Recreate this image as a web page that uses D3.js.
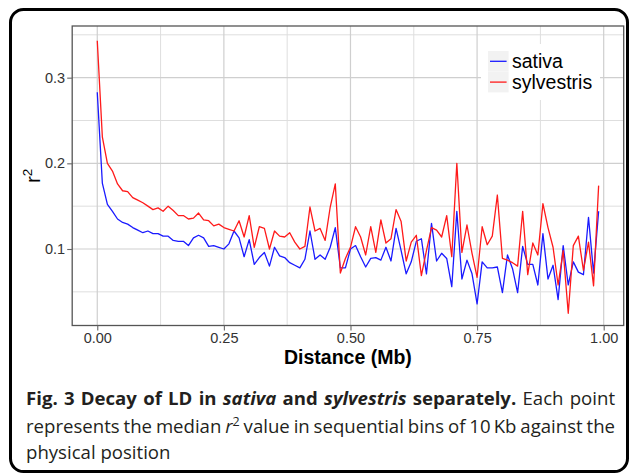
<!DOCTYPE html>
<html>
<head>
<meta charset="utf-8">
<script src="https://cdn.jsdelivr.net/npm/d3@7/dist/d3.min.js"></script>
<style>
  body { margin: 0; background: #fff; }
  svg { display: block; }
  .axis text { font-family: "Liberation Sans", Arial, sans-serif; font-size: 14.5px; fill: #333; }
  .axis path { display: none; }
  .axis line { stroke: #666; stroke-width: 1.1; }
  .title { font-family: "Liberation Sans", Arial, sans-serif; fill: #000; }
  .caption { font-family: "Open Sans", sans-serif; font-size: 18.6px; fill: #231f20; }
</style>
</head>
<body>
<div id="chart"></div>
<script>
// distance bins (Mb) and median r^2 per bin
const distance = [
  0.00, 0.01, 0.02, 0.03, 0.04, 0.05, 0.06, 0.07, 0.08, 0.09,
  0.10, 0.11, 0.12, 0.13, 0.14, 0.15, 0.16, 0.17, 0.18, 0.19,
  0.20, 0.21, 0.22, 0.23, 0.24, 0.25, 0.26, 0.27, 0.28, 0.29,
  0.30, 0.31, 0.32, 0.33, 0.34, 0.35, 0.36, 0.37, 0.38, 0.39,
  0.40, 0.41, 0.42, 0.43, 0.44, 0.45, 0.46, 0.47, 0.48, 0.49,
  0.50, 0.51, 0.52, 0.53, 0.54, 0.55, 0.56, 0.57, 0.58, 0.59,
  0.60, 0.61, 0.62, 0.63, 0.64, 0.65, 0.66, 0.67, 0.68, 0.69,
  0.70, 0.71, 0.72, 0.73, 0.74, 0.75, 0.76, 0.77, 0.78, 0.79,
  0.80, 0.81, 0.82, 0.83, 0.84, 0.85, 0.86, 0.87, 0.88, 0.89,
  0.90, 0.91, 0.92, 0.93, 0.94, 0.95, 0.96, 0.97, 0.98, 0.99
];

const sativa = [
  0.283, 0.177, 0.152, 0.144, 0.135, 0.131, 0.129, 0.125, 0.122, 0.119,
  0.121, 0.118, 0.118, 0.115, 0.115, 0.110, 0.109, 0.109, 0.104, 0.113,
  0.116, 0.113, 0.103, 0.104, 0.102, 0.100, 0.106, 0.121, 0.113, 0.091,
  0.111, 0.082, 0.090, 0.096, 0.080, 0.102, 0.092, 0.090, 0.084, 0.081,
  0.078, 0.088, 0.121, 0.088, 0.093, 0.088, 0.102, 0.125, 0.078, 0.078,
  0.100, 0.104, 0.091, 0.079, 0.089, 0.090, 0.087, 0.102, 0.086, 0.124,
  0.098, 0.071, 0.085, 0.109, 0.112, 0.071, 0.130, 0.086, 0.095, 0.089,
  0.056, 0.144, 0.065, 0.087, 0.071, 0.036, 0.085, 0.078, 0.078, 0.079,
  0.049, 0.093, 0.077, 0.049, 0.103, 0.082, 0.082, 0.058, 0.118, 0.065,
  0.081, 0.041, 0.104, 0.058, 0.085, 0.073, 0.070, 0.137, 0.072, 0.144
];

const sylvestris = [
  0.343, 0.231, 0.200, 0.191, 0.176, 0.168, 0.167, 0.160, 0.157, 0.154,
  0.150, 0.146, 0.148, 0.144, 0.150, 0.145, 0.139, 0.139, 0.135, 0.136,
  0.142, 0.134, 0.133, 0.127, 0.129, 0.125, 0.123, 0.121, 0.133, 0.114,
  0.139, 0.102, 0.126, 0.124, 0.100, 0.121, 0.115, 0.114, 0.119, 0.108,
  0.100, 0.103, 0.149, 0.121, 0.124, 0.110, 0.149, 0.176, 0.072, 0.089,
  0.102, 0.126, 0.114, 0.093, 0.126, 0.096, 0.134, 0.107, 0.112, 0.146,
  0.132, 0.086, 0.108, 0.116, 0.069, 0.098, 0.125, 0.122, 0.114, 0.139,
  0.091, 0.200, 0.096, 0.128, 0.095, 0.067, 0.126, 0.105, 0.115, 0.163,
  0.089, 0.087, 0.084, 0.080, 0.144, 0.070, 0.107, 0.093, 0.153, 0.125,
  0.102, 0.058, 0.098, 0.025, 0.104, 0.115, 0.075, 0.108, 0.057, 0.174
];

const seriesNames = ["sativa", "sylvestris"];
const seriesColors = ["#1a1aff", "#ff1a1a"];

const xTicks = [0, 0.25, 0.5, 0.75, 1];
const xMinorTicks = [0.125, 0.375, 0.625, 0.875];
const yTicks = [0.1, 0.2, 0.3];
const yMinorTicks = [0.05, 0.15, 0.25, 0.35];

const width = 629, height = 476;

const svg = d3.select("#chart").append("svg")
    .attr("width", width)
    .attr("height", height);

// scales: domains padded 5% like ggplot
const x = d3.scaleLinear().domain([-0.0495, 1.0395]).range([72.2, 623.7]);
const y = d3.scaleLinear().domain([0.0107, 0.3603]).range([325.5, 26]);

const panel = {
    left: x.range()[0], right: x.range()[1],
    top: y.range()[1], bottom: y.range()[0]
};

svg.append("rect")
    .attr("x", panel.left).attr("y", panel.top)
    .attr("width", panel.right - panel.left)
    .attr("height", panel.bottom - panel.top)
    .attr("fill", "#fff");

// grid
const grid = svg.append("g");
grid.selectAll(".vminor").data(xMinorTicks).enter().append("line")
    .attr("x1", d => x(d)).attr("x2", d => x(d))
    .attr("y1", panel.top).attr("y2", panel.bottom)
    .attr("stroke", "#dedede").attr("stroke-width", 1);
grid.selectAll(".hminor").data(yMinorTicks).enter().append("line")
    .attr("x1", panel.left).attr("x2", panel.right)
    .attr("y1", d => y(d)).attr("y2", d => y(d))
    .attr("stroke", "#dedede").attr("stroke-width", 1);
grid.selectAll(".vmajor").data(xTicks).enter().append("line")
    .attr("x1", d => x(d)).attr("x2", d => x(d))
    .attr("y1", panel.top).attr("y2", panel.bottom)
    .attr("stroke", "#cfcfcf").attr("stroke-width", 1.2);
grid.selectAll(".hmajor").data(yTicks).enter().append("line")
    .attr("x1", panel.left).attr("x2", panel.right)
    .attr("y1", d => y(d)).attr("y2", d => y(d))
    .attr("stroke", "#cfcfcf").attr("stroke-width", 1.2);

// lines
const series = [sativa, sylvestris];
const line = d3.line()
    .x((d, i) => x(distance[i]))
    .y(d => y(d));

svg.selectAll(".series").data(series).enter().append("path")
    .attr("class", "series")
    .attr("d", d => line(d))
    .attr("fill", "none")
    .attr("stroke", (d, i) => seriesColors[i])
    .attr("stroke-width", 1.3)
    .attr("stroke-linejoin", "round");

// panel border
svg.append("rect")
    .attr("x", panel.left).attr("y", panel.top)
    .attr("width", panel.right - panel.left)
    .attr("height", panel.bottom - panel.top)
    .attr("fill", "none")
    .attr("stroke", "#555")
    .attr("stroke-width", 1.3);

// axes
svg.append("g")
    .attr("class", "axis")
    .attr("transform", "translate(0," + panel.bottom + ")")
    .call(d3.axisBottom(x).tickValues(xTicks).tickFormat(d3.format(".2f"))
        .tickSize(5).tickPadding(2.5));

svg.append("g")
    .attr("class", "axis")
    .attr("transform", "translate(" + panel.left + ",0)")
    .call(d3.axisLeft(y).tickValues(yTicks).tickFormat(d3.format(".1f"))
        .tickSize(5).tickPadding(2));

// axis titles
svg.append("text")
    .attr("class", "title")
    .attr("x", (panel.left + panel.right) / 2)
    .attr("y", 364)
    .attr("text-anchor", "middle")
    .attr("font-weight", "bold")
    .attr("font-size", "19.5px")
    .text("Distance (Mb)");

const yTitle = svg.append("text")
    .attr("class", "title")
    .attr("transform", "translate(39.5," + ((panel.top + panel.bottom) / 2) + ") rotate(-90)")
    .attr("text-anchor", "middle")
    .attr("font-size", "19.5px");
yTitle.append("tspan").text("r");
yTitle.append("tspan").attr("font-size", "13.5px").attr("dy", "-8").text("2");

// legend
const legend = svg.append("g").attr("transform", "translate(481,44)");
legend.append("rect")
    .attr("width", 119).attr("height", 56)
    .attr("fill", "#fff");
const items = legend.selectAll(".item").data(seriesNames).enter().append("g")
    .attr("transform", (d, i) => "translate(7," + (7 + i * 20.8) + ")");
items.append("rect")
    .attr("width", 20.6).attr("height", 20.6)
    .attr("fill", "#f2f2f2");
items.append("line")
    .attr("x1", 2).attr("x2", 18.6)
    .attr("y1", 10.3).attr("y2", 10.3)
    .attr("stroke", (d, i) => seriesColors[i])
    .attr("stroke-width", 1.3);
items.append("text")
    .attr("class", "title")
    .attr("x", 24)
    .attr("y", 17.3)
    .attr("font-size", "19.5px")
    .text(d => d);

// outer frame
svg.append("rect")
    .attr("x", 10.5).attr("y", 9.5)
    .attr("width", 617).attr("height", 462)
    .attr("rx", 13).attr("ry", 13)
    .attr("fill", "none")
    .attr("stroke", "#000")
    .attr("stroke-width", 3);

// caption
const captionLeft = 26, captionRight = 615;

const cap1 = svg.append("text").attr("class", "caption").attr("x", captionLeft).attr("y", 405);
cap1.append("tspan").attr("font-weight", "bold").text("Fig. 3 Decay of LD in ");
cap1.append("tspan").attr("font-weight", "bold").attr("font-style", "italic").text("sativa");
cap1.append("tspan").attr("font-weight", "bold").text(" and ");
cap1.append("tspan").attr("font-weight", "bold").attr("font-style", "italic").text("sylvestris");
cap1.append("tspan").attr("font-weight", "bold").text(" separately.");
cap1.append("tspan").text(" Each point");

const cap2 = svg.append("text").attr("class", "caption").attr("x", captionLeft).attr("y", 432.7);
cap2.append("tspan").text("represents the median ");
cap2.append("tspan").attr("font-style", "italic").text("r");
cap2.append("tspan").attr("font-size", "12.5px").attr("dy", "-7").text("2");
cap2.append("tspan").attr("dy", "7").text(" value in sequential bins of 10\u2009Kb against the");

svg.append("text").attr("class", "caption").attr("x", captionLeft).attr("y", 459)
    .text("physical position");

// justify the first two caption lines
[cap1, cap2].forEach(t => {
    const natural = t.node().getComputedTextLength();
    const spaces = (t.text().match(/ /g) || []).length;
    t.attr("word-spacing", ((captionRight - captionLeft) - natural) / spaces);
});
</script>
</body>
</html>
